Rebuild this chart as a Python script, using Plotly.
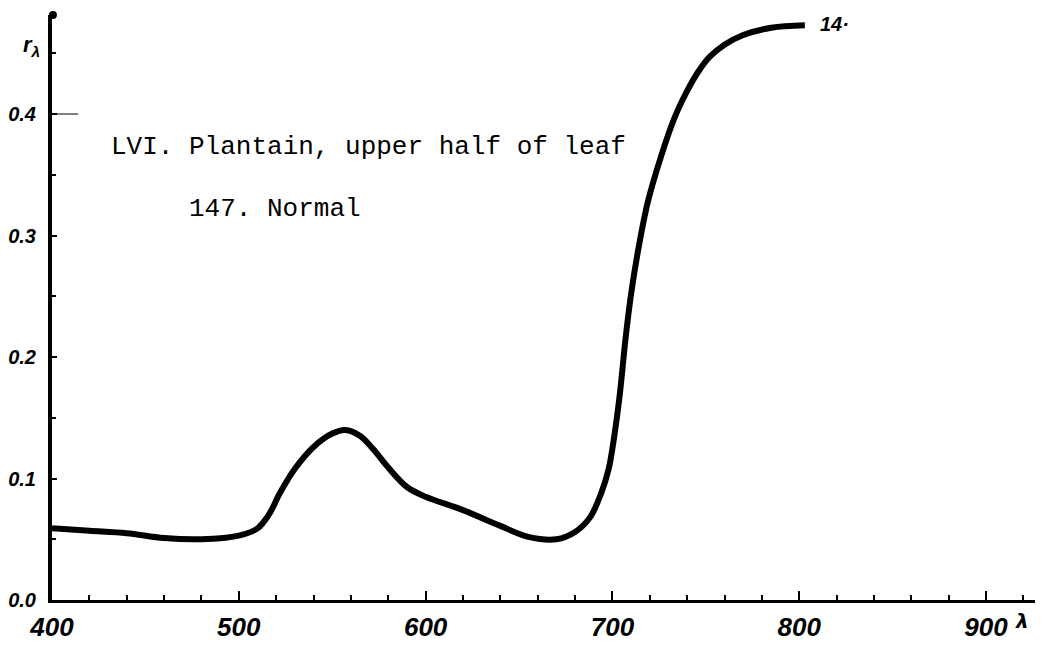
import plotly.graph_objects as go

# Spectral reflectance of a plantain leaf (upper half), sample 147, normal
wavelength = [400, 420, 440, 460, 480, 500, 510, 516, 522, 530, 540, 550, 557,
              565, 572, 580, 590, 600, 620, 640, 655, 670, 680, 688, 694, 698,
              701, 704, 707, 710, 714, 719, 726, 733, 740, 746, 752, 760, 770,
              785, 803]
reflectance = [0.059, 0.057, 0.055, 0.051, 0.050, 0.053, 0.059, 0.070, 0.088,
               0.108, 0.126, 0.137, 0.140, 0.135, 0.124, 0.109, 0.093, 0.085,
               0.074, 0.061, 0.052, 0.050, 0.056, 0.068, 0.088, 0.108, 0.135,
               0.170, 0.215, 0.252, 0.290, 0.328, 0.365, 0.396, 0.419, 0.435,
               0.447, 0.457, 0.465, 0.471, 0.473]

x_ticks = [400, 500, 600, 700, 800, 900]
x_tick_text = ["400", "500", "600", "700", "800", "900"]
y_ticks = [0.0, 0.1, 0.2, 0.3, 0.4]
y_tick_text = ["0.0", "0.1", "0.2", "0.3", "0.4"]

title_line1 = "LVI. Plantain, upper half of leaf"
title_line2 = "147. Normal"
curve_label = "14·"

X_MAX = 926.2
Y_MAX = 0.4815

num_font = dict(family="Liberation Sans", color="black", size=26,
                style="italic", weight="bold")
ylab_font = dict(family="Liberation Sans", color="black", size=20,
                 style="italic", weight="bold")
type_font = dict(family="Liberation Mono", color="black", size=26)

fig = go.Figure()

fig.add_trace(go.Scatter(
    x=wavelength, y=reflectance, mode="lines",
    line=dict(color="black", width=6, shape="spline", smoothing=1.0),
    hoverinfo="skip", showlegend=False,
))

# knob at the top end of the ordinate
fig.add_trace(go.Scatter(
    x=[400.5], y=[Y_MAX], mode="markers",
    marker=dict(color="black", size=8), cliponaxis=False,
    hoverinfo="skip", showlegend=False,
))

fig.update_layout(
    width=1043, height=650,
    margin=dict(l=50, r=8, t=15, b=38),
    paper_bgcolor="white", plot_bgcolor="white",
    xaxis=dict(
        range=[400, X_MAX], showgrid=False, zeroline=False,
        showline=True, linecolor="black", linewidth=3,
        tickmode="array", tickvals=x_ticks, ticktext=x_tick_text,
        ticks="inside", ticklen=9, tickwidth=2, tickcolor="black",
        tickfont=num_font, ticklabelstandoff=2,
        minor=dict(dtick=20, tick0=400, ticks="inside", ticklen=5,
                   tickwidth=2, tickcolor="black", showgrid=False),
    ),
    yaxis=dict(
        range=[0, Y_MAX], showgrid=False, zeroline=False,
        showline=True, linecolor="black", linewidth=4,
        tickmode="array", tickvals=y_ticks, ticktext=y_tick_text,
        ticks="inside", ticklen=5, tickwidth=2, tickcolor="black",
        tickfont=ylab_font, ticklabelstandoff=8,
        minor=dict(dtick=0.05, tick0=0, ticks="inside", ticklen=4,
                   tickwidth=2, tickcolor="black", showgrid=False),
    ),
)

# longer hairline tick at 0.4
fig.add_shape(type="line", xref="x", yref="y", x0=400, x1=414, y0=0.4, y1=0.4,
              line=dict(color="black", width=1))

annotations = [
    dict(x=0.058, y=1.0 - (150 - 15) / 597, xref="paper", yref="paper",
         text=title_line1, xanchor="left", yanchor="middle",
         showarrow=False, font=type_font),
    dict(x=(185 - 50) / 985, y=1.0 - (213 - 15) / 597, xref="paper", yref="paper",
         text=title_line2, xanchor="left", yanchor="middle",
         showarrow=False, font=type_font),
    dict(x=810, y=0.474, xref="x", yref="y", text=curve_label,
         xanchor="left", yanchor="middle", showarrow=False,
         font=dict(family="Liberation Sans", color="black", size=20,
                   style="italic", weight="bold")),
    dict(x=-0.032, y=1.0 - (47 - 15) / 597, xref="paper", yref="paper",
         text="r<sub>λ</sub>", xanchor="left", yanchor="middle",
         showarrow=False,
         font=dict(family="Liberation Sans", color="black", size=22,
                   style="italic", weight="bold")),
    dict(x=(1022 - 50) / 985, y=-(633 - 612) / 597, xref="paper", yref="paper",
         text="λ", xanchor="center", yanchor="middle", showarrow=False,
         font=dict(family="DejaVu Sans", color="black", size=20,
                   style="italic", weight="bold")),
]
fig.update_layout(annotations=annotations)

fig.write_html("out.html")
